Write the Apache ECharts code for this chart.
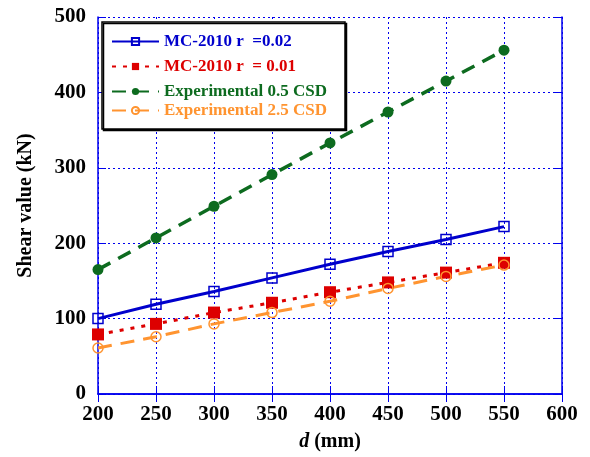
<!DOCTYPE html>
<html>
<head>
<meta charset="utf-8">
<script src="https://cdn.jsdelivr.net/npm/echarts@6/dist/echarts.min.js"></script>
<style>
  html, body { margin: 0; padding: 0; background: #fff; }
  #chart { width: 590px; height: 457px; }
</style>
</head>
<body>
<div id="chart"></div>
<script>
// x positions, d (mm)
var dValues = [200, 250, 300, 350, 400, 450, 500, 550]
// shear values (kN)
var mc002 = [100, 119, 136, 154, 172, 189, 205, 222]
var mc001 = [79, 93, 108, 121, 135, 148, 161, 174]
var exp05 = [165, 207, 249, 291, 333, 374, 415, 456]
var exp25 = [61, 76, 93, 108, 123, 140, 156, 171]
var seriesNames = ['MC-2010 r  =0.02', 'MC-2010 r  = 0.01', 'Experimental 0.5 CSD', 'Experimental 2.5 CSD']

var font = '"Liberation Serif", "Times New Roman", serif'
var axisBlue = '#0000ee'
var colors = ['#0000cc', '#dd0000', '#0d6b1f', '#ff9430']

function pairs(vals) {
  return vals.map(function (v, i) { return [dValues[i], v] })
}

// 图例, one per row because rows are not evenly spaced
var legendRows = [43, 68, 93, 112]
var legends = seriesNames.map(function (name, i) {
  return {
    data: [name],
    left: 111,
    top: legendRows[i] - 10,
    padding: 0,
    itemWidth: 47,
    itemHeight: 9,
    z: 10,
    selectedMode: false,
    textStyle: {
      fontFamily: font,
      fontWeight: 'bold',
      fontSize: 17,
      color: colors[i]
    }
  }
})

var chart = echarts.init(document.getElementById('chart'))
var options = {
  animation: false,
  backgroundColor: '#fff',
  grid: { left: 98, right: 28, top: 17, bottom: 59 },
  legend: legends,
  graphic: [{
    type: 'rect',
    shape: { x: 102, y: 22, width: 243, height: 107 },
    style: {
      fill: '#fff',
      stroke: '#000',
      lineWidth: 1.5,
      shadowColor: '#000',
      shadowOffsetX: 1.5,
      shadowOffsetY: 1.5,
      shadowBlur: 0
    },
    z: 3
  }],
  xAxis: [
    {
      type: 'value',
      min: 200,
      max: 600,
      interval: 50,
      name: '{i|d} (mm)',
      nameLocation: 'middle',
      nameGap: 38,
      nameTextStyle: {
        fontFamily: font,
        fontWeight: 'bold',
        fontSize: 20,
        color: '#000',
        rich: {
          i: { fontFamily: font, fontWeight: 'bold', fontStyle: 'italic', fontSize: 20, color: '#000' }
        }
      },
      axisLine: { lineStyle: { color: axisBlue, width: 1.5 } },
      axisTick: { inside: true, length: 8, lineStyle: { color: axisBlue } },
      axisLabel: { margin: 10, fontFamily: font, fontWeight: 'bold', fontSize: 21, color: '#000' },
      splitLine: { show: true, lineStyle: { color: axisBlue, width: 1, type: [2, 3] } }
    },
    {
      type: 'value',
      position: 'top',
      min: 200,
      max: 600,
      interval: 50,
      axisLine: { lineStyle: { color: axisBlue, width: 1.5 } },
      axisTick: { inside: true, length: 8, lineStyle: { color: axisBlue } },
      axisLabel: { show: false },
      splitLine: { show: false }
    }
  ],
  yAxis: [
    {
      type: 'value',
      min: 0,
      max: 500,
      interval: 100,
      name: 'Shear value (kN)',
      nameLocation: 'middle',
      nameGap: 62,
      nameTextStyle: { fontFamily: font, fontWeight: 'bold', fontSize: 20, color: '#000' },
      axisLine: { show: true, lineStyle: { color: axisBlue, width: 1.5 } },
      axisTick: { show: true, inside: true, length: 8, lineStyle: { color: axisBlue } },
      axisLabel: { margin: 12, fontFamily: font, fontWeight: 'bold', fontSize: 21, color: '#000' },
      splitLine: { show: true, lineStyle: { color: axisBlue, width: 1, type: [2, 3] } }
    },
    {
      type: 'value',
      position: 'right',
      min: 0,
      max: 500,
      interval: 100,
      axisLine: { show: true, lineStyle: { color: axisBlue, width: 1.5 } },
      axisTick: { show: true, inside: true, length: 8, lineStyle: { color: axisBlue } },
      axisLabel: { show: false },
      splitLine: { show: false }
    }
  ],
  series: [
    {
      name: seriesNames[0],
      type: 'line',
      data: pairs(mc002),
      symbol: 'rect',
      symbolSize: 10,
      lineStyle: { color: colors[0], width: 3, type: 'solid' },
      itemStyle: { color: 'rgba(255,255,255,0)', borderColor: colors[0], borderWidth: 1.5 }
    },
    {
      name: seriesNames[1],
      type: 'line',
      data: pairs(mc001),
      symbol: 'rect',
      symbolSize: 12,
      lineStyle: { color: colors[1], width: 3, type: [4, 7] },
      itemStyle: { color: colors[1], borderColor: colors[1], borderWidth: 0 }
    },
    {
      name: seriesNames[2],
      type: 'line',
      data: pairs(exp05),
      symbol: 'circle',
      symbolSize: 11,
      lineStyle: { color: colors[2], width: 3.5, type: [14, 9] },
      itemStyle: { color: colors[2], borderColor: colors[2], borderWidth: 0 }
    },
    {
      name: seriesNames[3],
      type: 'line',
      data: pairs(exp25),
      symbol: 'circle',
      symbolSize: 10,
      lineStyle: { color: colors[3], width: 3, type: [14, 9] },
      itemStyle: { color: 'rgba(255,255,255,0)', borderColor: colors[3], borderWidth: 1.5 }
    }
  ]
}
chart.setOption(options)
</script>
</body>
</html>
